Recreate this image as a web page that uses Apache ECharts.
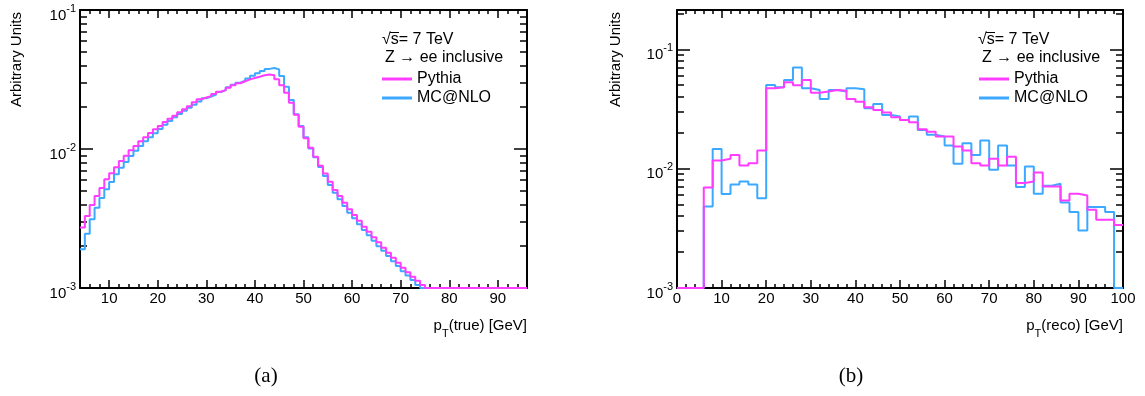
<!DOCTYPE html>
<html>
<head>
<meta charset="utf-8">
<script src="https://cdn.jsdelivr.net/npm/echarts@6/dist/echarts.min.js"></script>
<style>
html,body{margin:0;padding:0;background:#fff;}
#chart{width:1145px;height:396px;}
</style>
</head>
<body>
<div id="chart"></div>
<script>
// ---------------- data ----------------
// (a) p_T(true): 1 GeV bins from 4 to 96 GeV (bin edges)
const trueEdges = [4,5,6,7,8,9,10,11,12,13,14,15,16,17,18,19,20,21,22,23,24,25,26,27,28,29,30,31,32,33,34,35,36,37,38,39,40,41,42,43,44,45,46,47,48,49,50,51,52,53,54,55,56,57,58,59,60,61,62,63,64,65,66,67,68,69,70,71,72,73,74,75,76,77,78,79,80,81,82,83,84,85,86,87,88,89,90,91,92,93,94,95,96];
const truePythia = [2.72e-3,3.30e-3,3.95e-3,4.59e-3,5.24e-3,6.05e-3,6.68e-3,7.38e-3,8.20e-3,8.95e-3,9.79e-3,
  1.052e-2,1.135e-2,1.213e-2,1.303e-2,1.387e-2,1.462e-2,1.563e-2,1.652e-2,1.738e-2,1.837e-2,
  1.932e-2,2.03e-2,2.17e-2,2.28e-2,2.35e-2,2.40e-2,2.49e-2,2.58e-2,2.65e-2,2.76e-2,
  2.87e-2,2.97e-2,3.07e-2,3.17e-2,3.24e-2,3.31e-2,3.39e-2,3.44e-2,3.39e-2,3.17e-2,
  2.88e-2,2.54e-2,2.15e-2,1.76e-2,1.445e-2,1.194e-2,1.02e-2,8.81e-3,7.59e-3,6.67e-3,
  5.82e-3,5.07e-3,4.59e-3,4.11e-3,3.68e-3,3.35e-3,3.05e-3,2.76e-3,2.54e-3,2.32e-3,
  2.13e-3,1.95e-3,1.79e-3,1.65e-3,1.52e-3,1.40e-3,1.30e-3,1.205e-3,1.127e-3,1.05e-3,
  1e-3,1e-3,1e-3,1e-3,1e-3,1e-3,1e-3,1e-3,1e-3,1e-3,1e-3,1e-3,1e-3,1e-3,1e-3,1e-3,1e-3,1e-3,1e-3,1e-3,1e-3];
const trueMCNLO = [1.90e-3,2.46e-3,3.12e-3,3.78e-3,4.44e-3,5.13e-3,5.79e-3,6.58e-3,7.33e-3,8.05e-3,8.91e-3,
  9.72e-3,1.052e-2,1.135e-2,1.213e-2,1.297e-2,1.393e-2,1.496e-2,1.589e-2,1.690e-2,1.786e-2,
  1.888e-2,1.98e-2,2.08e-2,2.20e-2,2.32e-2,2.38e-2,2.46e-2,2.57e-2,2.65e-2,2.78e-2,
  2.90e-2,3.00e-2,3.10e-2,3.21e-2,3.37e-2,3.51e-2,3.64e-2,3.77e-2,3.83e-2,3.74e-2,
  3.35e-2,2.81e-2,2.25e-2,1.78e-2,1.462e-2,1.213e-2,1.01e-2,8.71e-3,7.43e-3,6.40e-3,
  5.51e-3,4.85e-3,4.35e-3,3.89e-3,3.48e-3,3.17e-3,2.88e-3,2.61e-3,2.40e-3,2.19e-3,
  2.00e-3,1.85e-3,1.70e-3,1.56e-3,1.44e-3,1.32e-3,1.23e-3,1.14e-3,1.05e-3,
  1e-3,1e-3,1e-3,1e-3,1e-3,1e-3,1e-3,1e-3,1e-3,1e-3,1e-3,1e-3,1e-3,1e-3,1e-3,1e-3,1e-3,1e-3,1e-3,1e-3,1e-3,1e-3];

// (b) p_T(reco): 2 GeV bins from 0 to 100 GeV (bin edges)
const recoEdges = [0,2,4,6,8,10,12,14,16,18,20,22,24,26,28,30,32,34,36,38,40,42,44,46,48,50,52,54,56,58,60,62,64,66,68,70,72,74,76,78,80,82,84,86,88,90,92,94,96,98,100];
const recoPythia = [1e-3,1e-3,1e-3,6.95e-3,1.17e-2,1.21e-2,1.30e-2,1.06e-2,1.11e-2,1.42e-2,
  4.72e-2,4.81e-2,5.30e-2,5.00e-2,5.53e-2,4.33e-2,4.42e-2,4.56e-2,4.50e-2,3.84e-2,
  3.64e-2,3.27e-2,3.10e-2,2.95e-2,2.70e-2,2.56e-2,2.45e-2,2.14e-2,2.04e-2,1.86e-2,
  1.86e-2,1.53e-2,1.42e-2,1.11e-2,1.06e-2,1.21e-2,1.06e-2,1.26e-2,7.57e-3,7.80e-3,
  9.27e-3,7.08e-3,7.08e-3,5.41e-3,6.15e-3,5.96e-3,4.52e-3,3.73e-3,3.73e-3,3.37e-3];
const recoMCNLO = [1e-3,1e-3,1e-3,4.82e-3,1.46e-2,6.12e-3,7.36e-3,7.80e-3,7.38e-3,5.66e-3,
  5.03e-2,4.81e-2,5.53e-2,7.02e-2,4.72e-2,4.56e-2,3.84e-2,4.56e-2,4.42e-2,4.72e-2,
  4.63e-2,3.21e-2,3.48e-2,2.82e-2,2.73e-2,2.56e-2,2.73e-2,2.11e-2,1.92e-2,1.86e-2,
  1.56e-2,1.10e-2,1.63e-2,1.30e-2,1.72e-2,9.77e-3,1.56e-2,1.06e-2,7.00e-3,1.04e-2,
  6.15e-3,7.18e-3,7.46e-3,5.20e-3,4.33e-3,3.03e-3,4.76e-3,4.76e-3,4.33e-3,1e-3];

// tick values / labels
const trueXTicks = [10,20,30,40,50,60,70,80,90];
const trueXMinor = [6,8,12,14,16,18,22,24,26,28,32,34,36,38,42,44,46,48,52,54,56,58,62,64,66,68,72,74,76,78,82,84,86,88,92,94];
const recoXTicks = [0,10,20,30,40,50,60,70,80,90,100];
const recoXMinor = [2,4,6,8,12,14,16,18,22,24,26,28,32,34,36,38,42,44,46,48,52,54,56,58,62,64,66,68,72,74,76,78,82,84,86,88,92,94,96,98];
const yTicks = [0.001,0.01,0.1];
const yMinor = [0.002,0.003,0.004,0.005,0.006,0.007,0.008,0.009,0.02,0.03,0.04,0.05,0.06,0.07,0.08,0.09,0.2];
const seriesNames = ['Pythia','MC@NLO'];
const yTitle = 'Arbitrary Units';
const infoLines = ['\u221As= 7 TeV','Z \u2192 ee inclusive'];

// ---------------- styling ----------------
const FONT = '"Liberation Sans", Arial, Helvetica, sans-serif';
const MAGENTA = '#ff3cff';
const BLUE = '#3ca8ff';
const BLACK = '#000';

function histPoints(edges, vals){
  const pts = vals.map((v,i)=>[edges[i], v]);
  pts.push([edges[vals.length], vals[vals.length-1]]);
  return pts;
}

function xAxes(g, min, max, majors, minors){
  const base = {type:'value', gridIndex:g, min:min, max:max, splitLine:{show:false}};
  const tickStyle = {color:BLACK, width:1.5};
  return [
    Object.assign({}, base, {position:'bottom',
      axisLine:{show:true,onZero:false,lineStyle:{color:BLACK,width:2}},
      axisTick:{show:true,inside:true,length:8,customValues:majors,lineStyle:tickStyle},
      axisLabel:{show:true,customValues:majors,margin:3,color:BLACK,fontSize:15,fontFamily:FONT}}),
    Object.assign({}, base, {position:'bottom',
      axisLine:{show:false,onZero:false},
      axisTick:{show:true,inside:true,length:4,customValues:minors,lineStyle:tickStyle},
      axisLabel:{show:false}}),
    Object.assign({}, base, {position:'top',
      axisLine:{show:true,onZero:false,lineStyle:{color:BLACK,width:2}},
      axisTick:{show:true,inside:true,length:8,customValues:majors,lineStyle:tickStyle},
      axisLabel:{show:false}}),
    Object.assign({}, base, {position:'top',
      axisLine:{show:false,onZero:false},
      axisTick:{show:true,inside:true,length:4,customValues:minors,lineStyle:tickStyle},
      axisLabel:{show:false}})
  ];
}

function yAxes(g, min, max){
  const base = {type:'log', logBase:10, gridIndex:g, min:min, max:max, splitLine:{show:false}};
  const tickStyle = {color:BLACK, width:1.5};
  const labelFmt = function(v){ const e = Math.round(Math.log10(v)); return '{b|10}{s|' + e + '}'; };
  return [
    Object.assign({}, base, {position:'left',
      axisLine:{show:true,onZero:false,lineStyle:{color:BLACK,width:2}},
      axisTick:{show:true,inside:true,length:13,customValues:yTicks,lineStyle:tickStyle},
      axisLabel:{show:true,customValues:yTicks,margin:4,formatter:labelFmt,padding:[6,0,0,0],
        rich:{
          b:{fontSize:15,fontFamily:FONT,color:BLACK,lineHeight:20,verticalAlign:'bottom'},
          s:{fontSize:11,fontFamily:FONT,color:BLACK,lineHeight:11,verticalAlign:'top'}
        }}}),
    Object.assign({}, base, {position:'left',
      axisLine:{show:false,onZero:false},
      axisTick:{show:true,inside:true,length:7,customValues:yMinor,lineStyle:tickStyle},
      axisLabel:{show:false}}),
    Object.assign({}, base, {position:'right',
      axisLine:{show:true,onZero:false,lineStyle:{color:BLACK,width:2}},
      axisTick:{show:true,inside:true,length:13,customValues:yTicks,lineStyle:tickStyle},
      axisLabel:{show:false}}),
    Object.assign({}, base, {position:'right',
      axisLine:{show:false,onZero:false},
      axisTick:{show:true,inside:true,length:7,customValues:yMinor,lineStyle:tickStyle},
      axisLabel:{show:false}})
  ];
}

function histSeries(name, color, xi, yi, edges, vals, z){
  return {type:'line', name:name, xAxisIndex:xi, yAxisIndex:yi, data:histPoints(edges, vals),
    step:'end', symbol:'none', showSymbol:false, clip:true, z:z,
    lineStyle:{color:color, width:2}, itemStyle:{color:color}, emphasis:{disabled:true}};
}

function legendFor(left){
  return {left:left, top:70, orient:'vertical', padding:0, data:seriesNames, icon:'rect',
    itemWidth:30, itemHeight:3, itemGap:1, selectedMode:false,
    textStyle:{fontSize:16, fontFamily:FONT, color:BLACK, lineHeight:18}};
}

function xTitle(x, label){
  return {type:'text', x:x, y:327.5, style:{
    text:'{n|p}{sub|T}{n|' + label + '}', align:'right', verticalAlign:'middle',
    rich:{
      n:{fontSize:15, fontFamily:FONT, fill:BLACK, lineHeight:18, verticalAlign:'top'},
      sub:{fontSize:11, fontFamily:FONT, fill:BLACK, lineHeight:11, verticalAlign:'top', padding:[10,0,0,0]}
    }}};
}

function yTitleEl(x){
  return {type:'text', x:x, y:12, rotation:Math.PI/2, style:{
    text:yTitle, align:'right', verticalAlign:'middle', fontSize:15, fontFamily:FONT, fill:BLACK}};
}

function infoText(x, y, t){
  return {type:'text', x:x, y:y, style:{text:t, align:'left', verticalAlign:'middle', fontSize:16, fontFamily:FONT, fill:BLACK}};
}

// overbar of the square-root sign (text decoration)
function sqrtBar(x){
  return {type:'line', shape:{x1:x, y1:32.5, x2:x+9, y2:32.5}, style:{stroke:BLACK, lineWidth:1}};
}

const option = {
  backgroundColor:'#fff',
  animation:false,
  grid:[
    {left:80, top:10, width:447, height:278, containLabel:false},
    {left:677, top:10, width:446, height:278, containLabel:false}
  ],
  xAxis: xAxes(0, 4, 96, trueXTicks, trueXMinor).concat(xAxes(1, 0, 100, recoXTicks, recoXMinor)),
  yAxis: yAxes(0, 0.001, 0.1).concat(yAxes(1, 0.001, 0.2133)),
  legend:[legendFor(382), legendFor(979)],
  series:[
    histSeries('MC@NLO', BLUE, 0, 0, trueEdges, trueMCNLO, 2),
    histSeries('Pythia', MAGENTA, 0, 0, trueEdges, truePythia, 3),
    histSeries('MC@NLO', BLUE, 4, 4, recoEdges, recoMCNLO, 2),
    histSeries('Pythia', MAGENTA, 4, 4, recoEdges, recoPythia, 3)
  ],
  graphic:[
    yTitleEl(16.5), yTitleEl(616),
    xTitle(527, '(true) [GeV]'), xTitle(1123, '(reco) [GeV]'),
    infoText(382, 40, infoLines[0]), infoText(385, 58, infoLines[1]),
    infoText(978, 40, infoLines[0]), infoText(982, 58, infoLines[1]),
    sqrtBar(390), sqrtBar(986),
    {type:'text', x:266, y:376, style:{text:'(a)', align:'center', verticalAlign:'middle', fontSize:21, fontFamily:'"Liberation Serif", "DejaVu Serif", serif', fill:BLACK}},
    {type:'text', x:851, y:376, style:{text:'(b)', align:'center', verticalAlign:'middle', fontSize:21, fontFamily:'"Liberation Serif", "DejaVu Serif", serif', fill:BLACK}}
  ]
};

const chart = echarts.init(document.getElementById('chart'), null, {renderer:'canvas'});
chart.setOption(option);
</script>
</body>
</html>
